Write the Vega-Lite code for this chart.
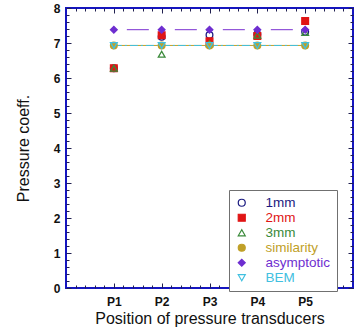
{
  "$schema": "https://vega.github.io/schema/vega-lite/v6.json",
  "width": 287,
  "height": 280,
  "autosize": "none",
  "padding": {"left": 66, "top": 8, "right": 4, "bottom": 45},
  "background": "white",
  "config": {
    "view": {"stroke": "#1515c0", "strokeWidth": 2},
    "font": "Liberation Sans",
    "axis": {"grid": false, "domain": false, "tickColor": "#202050", "tickWidth": 1}
  },
  "data": {
    "values": [
      {"series": "1mm", "pos": 1, "value": 6.28},
      {"series": "1mm", "pos": 2, "value": 7.18},
      {"series": "1mm", "pos": 3, "value": 7.23},
      {"series": "1mm", "pos": 4, "value": 7.25},
      {"series": "1mm", "pos": 5, "value": 7.32},
      {"series": "2mm", "pos": 1, "value": 6.28},
      {"series": "2mm", "pos": 2, "value": 7.22},
      {"series": "2mm", "pos": 3, "value": 7.05},
      {"series": "2mm", "pos": 4, "value": 7.2},
      {"series": "2mm", "pos": 5, "value": 7.63},
      {"series": "3mm", "pos": 1, "value": 6.28},
      {"series": "3mm", "pos": 2, "value": 6.68},
      {"series": "3mm", "pos": 3, "value": 6.98},
      {"series": "3mm", "pos": 4, "value": 7.22},
      {"series": "3mm", "pos": 5, "value": 7.3},
      {"series": "similarity", "pos": 1, "value": 6.93},
      {"series": "similarity", "pos": 2, "value": 6.93},
      {"series": "similarity", "pos": 3, "value": 6.93},
      {"series": "similarity", "pos": 4, "value": 6.93},
      {"series": "similarity", "pos": 5, "value": 6.93},
      {"series": "asymptotic", "pos": 1, "value": 7.38},
      {"series": "asymptotic", "pos": 2, "value": 7.38},
      {"series": "asymptotic", "pos": 3, "value": 7.38},
      {"series": "asymptotic", "pos": 4, "value": 7.38},
      {"series": "asymptotic", "pos": 5, "value": 7.38},
      {"series": "BEM", "pos": 1, "value": 6.93},
      {"series": "BEM", "pos": 2, "value": 6.93},
      {"series": "BEM", "pos": 3, "value": 6.93},
      {"series": "BEM", "pos": 4, "value": 6.93},
      {"series": "BEM", "pos": 5, "value": 6.93}
    ]
  },
  "resolve": {"axis": {"x": "independent", "y": "independent"}},
  "layer": [
    {
      "transform": [{"filter": {"field": "series", "equal": "similarity"}}],
      "mark": {"type": "line", "color": "#c8a020", "strokeWidth": 1},
      "encoding": {
        "x": {"field": "pos", "type": "quantitative", "scale": {"domain": [0, 6], "nice": false, "zero": false},
          "axis": {"orient": "top", "values": [1, 2, 3, 4, 5], "offset": -5, "tickSize": 5, "labels": false, "title": null}},
        "y": {"field": "value", "type": "quantitative", "scale": {"domain": [0, 8], "nice": false},
          "axis": {"orient": "right", "values": [0, 1, 2, 3, 4, 5, 6, 7, 8], "offset": -5, "tickSize": 5, "labels": false, "title": null}}
      }
    },
    {
      "transform": [{"filter": {"field": "series", "equal": "asymptotic"}}],
      "mark": {"type": "line", "color": "#7a30d0", "strokeWidth": 1, "strokeDash": [22, 26], "strokeDashOffset": 35},
      "encoding": {
        "x": {"field": "pos", "type": "quantitative",
          "axis": {"orient": "bottom", "values": [0.2, 0.4, 0.6, 0.8, 1.2, 1.4, 1.6, 1.8, 2.2, 2.4, 2.6, 2.8, 3.2, 3.4, 3.6, 3.8, 4.2, 4.4, 4.6, 4.8, 5.2, 5.4, 5.6, 5.8], "offset": -3, "tickSize": 3, "labels": false, "title": null}},
        "y": {"field": "value", "type": "quantitative",
          "axis": {"orient": "left", "values": [0.2, 0.4, 0.6, 0.8, 1.2, 1.4, 1.6, 1.8, 2.2, 2.4, 2.6, 2.8, 3.2, 3.4, 3.6, 3.8, 4.2, 4.4, 4.6, 4.8, 5.2, 5.4, 5.6, 5.8, 6.2, 6.4, 6.6, 6.8, 7.2, 7.4, 7.6, 7.8], "offset": -3, "tickSize": 3, "labels": false, "title": null}}
      }
    },
    {
      "transform": [{"filter": {"field": "series", "equal": "BEM"}}],
      "mark": {"type": "line", "color": "#40c0e0", "strokeWidth": 1, "strokeDash": [8, 3, 2, 3]},
      "encoding": {
        "x": {"field": "pos", "type": "quantitative",
          "axis": {"orient": "top", "values": [0.2, 0.4, 0.6, 0.8, 1.2, 1.4, 1.6, 1.8, 2.2, 2.4, 2.6, 2.8, 3.2, 3.4, 3.6, 3.8, 4.2, 4.4, 4.6, 4.8, 5.2, 5.4, 5.6, 5.8], "offset": -3, "tickSize": 3, "labels": false, "title": null}},
        "y": {"field": "value", "type": "quantitative",
          "axis": {"orient": "right", "values": [0.2, 0.4, 0.6, 0.8, 1.2, 1.4, 1.6, 1.8, 2.2, 2.4, 2.6, 2.8, 3.2, 3.4, 3.6, 3.8, 4.2, 4.4, 4.6, 4.8, 5.2, 5.4, 5.6, 5.8, 6.2, 6.4, 6.6, 6.8, 7.2, 7.4, 7.6, 7.8], "offset": -3, "tickSize": 3, "labels": false, "title": null}}
      }
    },
    {
      "mark": {"type": "point", "strokeWidth": 1.3, "opacity": 1},
      "encoding": {
        "x": {"field": "pos", "type": "quantitative",
          "axis": {"orient": "bottom", "values": [1, 2, 3, 4, 5], "labelExpr": "'P' + datum.value", "offset": -5, "tickSize": 5, "labelPadding": 8, "labelFontSize": 12, "labelFontWeight": "bold", "labelColor": "#111111", "title": "Position of pressure transducers", "titleFontSize": 16, "titleFontWeight": "normal", "titleColor": "#111111", "titlePadding": 3}},
        "y": {"field": "value", "type": "quantitative",
          "axis": {"orient": "left", "values": [0, 1, 2, 3, 4, 5, 6, 7, 8], "offset": -5, "tickSize": 5, "labelPadding": 6, "labelFontSize": 12, "labelFontWeight": "bold", "labelColor": "#111111", "title": "Pressure coeff.", "titleFontSize": 16, "titleFontWeight": "normal", "titleColor": "#111111", "titlePadding": 22}},
        "shape": {"field": "series", "type": "nominal",
          "scale": {"domain": ["1mm", "2mm", "3mm", "similarity", "asymptotic", "BEM"], "range": ["circle", "square", "triangle-up", "circle", "diamond", "triangle-down"]},
          "legend": {"title": null, "orient": "none", "legendX": 163, "legendY": 182, "strokeColor": "#707070", "fillColor": "white", "padding": 6,
            "labelFontSize": 13.5, "labelFont": "Liberation Sans", "rowPadding": 0, "symbolSize": 49, "symbolStrokeWidth": 1.2,
            "labelOffset": 17, "labelColor": {"expr": "scale('stroke', datum.value)"}}},
        "stroke": {"field": "series", "type": "nominal",
          "scale": {"domain": ["1mm", "2mm", "3mm", "similarity", "asymptotic", "BEM"], "range": ["#1a1a80", "#e01515", "#3a8a3a", "#c0a028", "#6e2ed0", "#40c0e0"]},
          "legend": {"title": null, "orient": "none", "legendX": 163, "legendY": 182, "strokeColor": "#707070", "fillColor": "white", "padding": 6,
            "labelFontSize": 13.5, "labelFont": "Liberation Sans", "rowPadding": 0, "symbolSize": 49, "symbolStrokeWidth": 1.2,
            "labelOffset": 17, "labelColor": {"expr": "scale('stroke', datum.value)"}}},
        "fill": {"field": "series", "type": "nominal",
          "scale": {"domain": ["1mm", "2mm", "3mm", "similarity", "asymptotic", "BEM"], "range": ["transparent", "#e01515", "transparent", "#c0a028", "#6e2ed0", "transparent"]},
          "legend": {"title": null, "orient": "none", "legendX": 163, "legendY": 182, "strokeColor": "#707070", "fillColor": "white", "padding": 6,
            "labelFontSize": 13.5, "labelFont": "Liberation Sans", "rowPadding": 0, "symbolSize": 49, "symbolStrokeWidth": 1.2,
            "labelOffset": 17, "labelColor": {"expr": "scale('stroke', datum.value)"}}},
        "size": {"value": 45}
      }
    }
  ]
}
